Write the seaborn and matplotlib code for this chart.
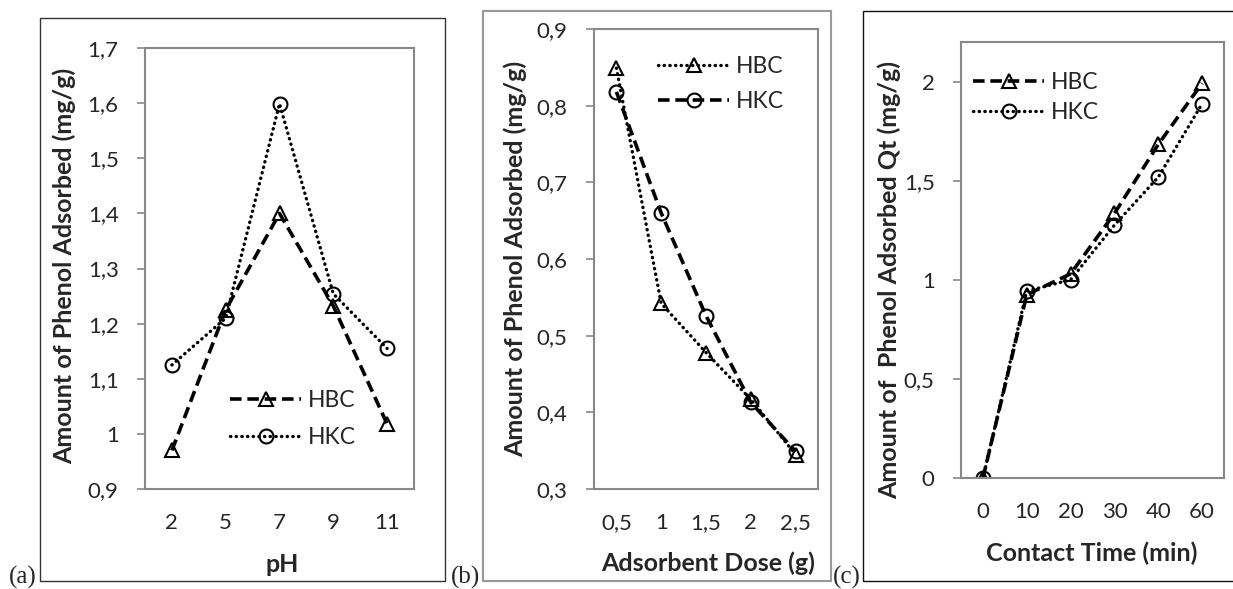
import matplotlib
matplotlib.use('Agg')
import matplotlib.pyplot as plt
import seaborn as sns
import numpy as np
from matplotlib.patches import Rectangle

sns.set_theme(style='white')
plt.rcParams['font.family'] = ['Lato', 'DejaVu Sans']

# ---------------- data ----------------
ph_levels = ['2', '5', '7', '9', '11']
ph_hbc = [0.97, 1.225, 1.40, 1.232, 1.018]
ph_hkc = [1.125, 1.21, 1.599, 1.254, 1.155]

dose_levels = ['0,5', '1', '1,5', '2', '2,5']
dose_hbc = [0.849, 0.542, 0.478, 0.417, 0.345]
dose_hkc = [0.818, 0.660, 0.526, 0.413, 0.349]

time_levels = ['0', '10', '20', '30', '40', '60']
time_hbc = [0.0, 0.925, 1.03, 1.335, 1.683, 1.992]
time_hkc = [0.0, 0.943, 1.0, 1.276, 1.518, 1.888]

ph_yticks = [0.9, 1.0, 1.1, 1.2, 1.3, 1.4, 1.5, 1.6, 1.7]
dose_yticks = [0.3, 0.4, 0.5, 0.6, 0.7, 0.8, 0.9]
time_yticks = [0.0, 0.5, 1.0, 1.5, 2.0]

# ---------------- styling ----------------
W, H = 1233, 589
fig = plt.figure(figsize=(W / 100, H / 100), dpi=100)
SPINE = '#888888'
DASHED = (0, (3.2, 1.6))
DOTTED = (0, (0.1, 1.6))
TICK_FS = 16
LABEL_FS = 18
LEG_FS = 16.5


def px_axes(x0, y0, x1, y1):
    return fig.add_axes([x0 / W, 1 - y1 / H, (x1 - x0) / W, (y1 - y0) / H])


def comma(v):
    return f"{v:g}".replace('.', ',')


def draw_series(ax, cats, vals, label, ls, marker):
    cap = 'round' if ls == DOTTED else 'butt'
    lw = 2.4 if ls == DOTTED else 2.6
    sns.lineplot(x=cats, y=vals, ax=ax, sort=False, color='black', linestyle=ls,
                 linewidth=lw, dash_capstyle=cap, marker=marker, markersize=10,
                 markerfacecolor='none', markeredgecolor='black', markeredgewidth=1.5,
                 label=label)


def style_axes(ax, box, yticks, ylim, xlabel, ylabel, xlab_c, ylab_c):
    x0, y0, x1, y1 = box
    ax.set_ylim(*ylim)
    ax.set_xlim(-0.5, len(ax.get_xticks()) - 0.5)
    ax.set_yticks(yticks)
    ax.set_yticklabels([comma(v) for v in yticks])
    for sp in ax.spines.values():
        sp.set_color(SPINE)
        sp.set_linewidth(1.5)
    ax.tick_params(axis='y', which='major', left=True, length=6, width=1.2,
                   color=SPINE, pad=13, labelsize=TICK_FS)
    ax.tick_params(axis='x', length=0, pad=17, labelsize=TICK_FS)
    ax.set_xlabel(xlabel, fontsize=LABEL_FS, fontweight='bold', va='center')
    ax.set_ylabel(ylabel, fontsize=LABEL_FS, fontweight='bold', va='center')
    # label centres given in figure pixels
    ax.xaxis.set_label_coords((xlab_c[0] - x0) / (x1 - x0), (y1 - xlab_c[1]) / (y1 - y0))
    ax.yaxis.set_label_coords((ylab_c[0] - x0) / (x1 - x0), (y1 - ylab_c[1]) / (y1 - y0))
    ax.grid(False)


def legend(ax, box, corner, spacing):
    x0, y0, x1, y1 = box
    ax.legend(loc='upper left',
              bbox_to_anchor=((corner[0] - x0) / (x1 - x0), (y1 - corner[1]) / (y1 - y0)),
              frameon=False, fontsize=LEG_FS, handlelength=3.1, borderpad=0,
              borderaxespad=0, handletextpad=0.3, labelspacing=spacing)


# ---------------- (a) pH ----------------
box_a = (145, 48, 414, 489)
ax_a = px_axes(*box_a)
draw_series(ax_a, ph_levels, ph_hbc, 'HBC', DASHED, '^')
draw_series(ax_a, ph_levels, ph_hkc, 'HKC', DOTTED, 'o')
style_axes(ax_a, box_a, ph_yticks, (0.9, 1.7), 'pH', 'Amount of Phenol Adsorbed (mg/g)',
           (282, 564), (64, 266))
legend(ax_a, box_a, (230, 390), 0.72)

# ---------------- (b) dose ----------------
box_b = (594, 29, 818, 489)
ax_b = px_axes(*box_b)
draw_series(ax_b, dose_levels, dose_hbc, 'HBC', DOTTED, '^')
draw_series(ax_b, dose_levels, dose_hkc, 'HKC', DASHED, 'o')
style_axes(ax_b, box_b, dose_yticks, (0.3, 0.9), 'Adsorbent Dose (g)',
           'Amount of Phenol Adsorbed (mg/g)', (708, 563), (515, 259))
legend(ax_b, box_b, (658, 56), 0.6)

# ---------------- (c) contact time ----------------
box_c = (961, 42, 1224, 478)
ax_c = px_axes(*box_c)
draw_series(ax_c, time_levels, time_hbc, 'HBC', DASHED, '^')
draw_series(ax_c, time_levels, time_hkc, 'HKC', DOTTED, 'o')
style_axes(ax_c, box_c, time_yticks, (0, 2.2), 'Contact Time (min)',
           'Amount of  Phenol Adsorbed Qt (mg/g)', (1092, 553), (889, 280))
legend(ax_c, box_c, (973, 72), 0.38)

# ---------------- panel frames and letters ----------------
frames = [((40, 18, 445, 581), '#333333', 1.0),
          ((483, 11, 831, 581), '#999999', 1.5),
          ((863, 11, 1245, 581), '#111111', 1.0)]
for (fx0, fy0, fx1, fy1), col, lw in frames:
    fig.add_artist(Rectangle((fx0 / W, 1 - fy1 / H), (fx1 - fx0) / W, (fy1 - fy0) / H,
                             transform=fig.transFigure, fill=False, edgecolor=col,
                             linewidth=lw))

for txt, x in [('(a)', 9), ('(b)', 451), ('(c)', 833)]:
    fig.text(x / W, 1 - 577 / H, txt, fontsize=18, va='center', ha='left',
             family=['Liberation Serif', 'DejaVu Serif'])

fig.savefig('out.png', dpi=100)
